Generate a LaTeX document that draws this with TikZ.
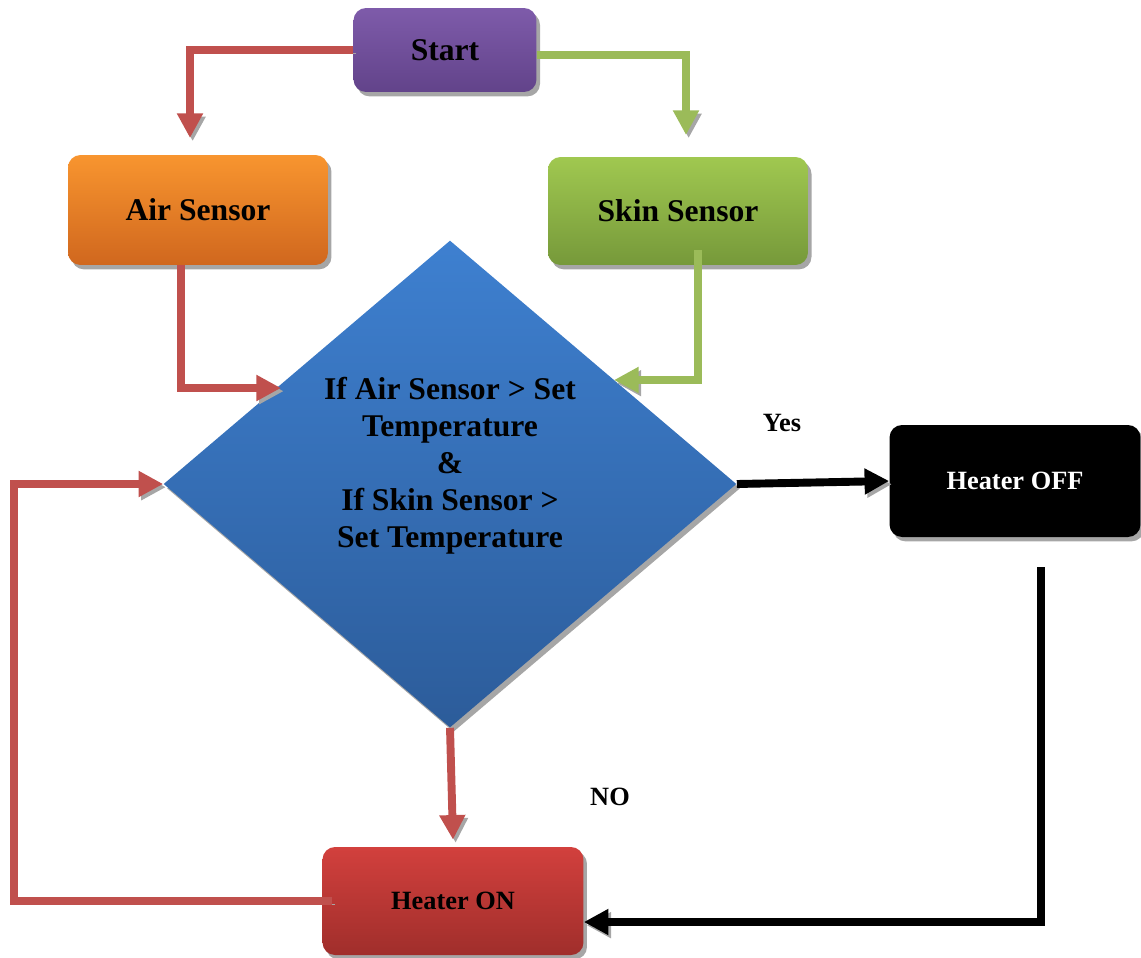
\documentclass[tikz,border=0pt]{standalone}
\usepackage{fontspec}
\setmainfont{Liberation Serif}
\usetikzlibrary{shapes.geometric,arrows.meta,shadows}
\definecolor{purpleA}{HTML}{7E5BAA}
\definecolor{purpleB}{HTML}{62438A}
\definecolor{orangeA}{HTML}{F8952F}
\definecolor{orangeB}{HTML}{D0671E}
\definecolor{greenA}{HTML}{A0C850}
\definecolor{greenB}{HTML}{76993A}
\definecolor{blueA}{HTML}{3E80D0}
\definecolor{blueB}{HTML}{2C5C9A}
\definecolor{redA}{HTML}{D2403D}
\definecolor{redB}{HTML}{A02E2B}
\definecolor{redline}{HTML}{C0504D}
\definecolor{greenline}{HTML}{9BBB59}
\begin{document}
\begin{tikzpicture}[x=0.02cm,y=-0.02cm,
  shade/.style={drop shadow={shadow xshift=2pt,shadow yshift=-2.5pt,fill=black!35,opacity=1}},
  box/.style={rectangle,rounded corners=0.25cm,minimum width=5.2cm,minimum height=2.2cm,
    font=\fontsize{18}{21}\selectfont\bfseries,shade},
  flow/.style={line width=4.5pt,-{Triangle[length=14pt,width=14pt]},
    preaction={draw=black!35,transform canvas={xshift=1.5pt,yshift=-1.8pt}}},
  redflow/.style={flow,draw=redline},
  greenflow/.style={flow,draw=greenline},
  blackflow/.style={flow,draw=black},
  tag/.style={font=\fontsize{15}{18}\selectfont\bfseries}]
\useasboundingbox (0,0) rectangle (1141,957);
\node[box,top color=purpleA,bottom color=purpleB,minimum width=3.66cm,minimum height=1.68cm] (start) at (445,50) {Start};
\node[box,top color=orangeA,bottom color=orangeB] (air) at (198,210) {Air Sensor};
\node[box,top color=greenA,bottom color=greenB,minimum height=2.16cm] (skin) at (678,211) {Skin Sensor};
\node[diamond,top color=blueA,bottom color=blueB,minimum width=11.46cm,minimum height=9.74cm,
  inner sep=0pt,shade] (check) at (450,484) {};
\node[align=center,font=\fontsize{18}{21}\selectfont\bfseries] (checktext) at (450,466)
  {If Air Sensor > Set\\Temperature\\\&\\If Skin Sensor >\\Set Temperature};
\node[box,fill=black,text=white,minimum width=5.02cm,minimum height=2.24cm,
  font=\fontsize{15}{18}\selectfont\bfseries] (off) at (1015,481) {Heater OFF};
\node[box,top color=redA,bottom color=redB,minimum width=5.22cm,minimum height=2.16cm,
  font=\fontsize{15}{18}\selectfont\bfseries] (on) at (453,901) {Heater ON};
\node[tag] (yes) at (782,423) {Yes};
\node[tag] (no) at (610,797) {NO};
\coordinate (airin) at (190,138);
\coordinate (skinin) at (686,135);
\coordinate (chkl) at (281,388);
\coordinate (chkr) at (614,380);
\coordinate (offout) at (1041,567);
\coordinate (loopx) at (14,700);
\draw[redflow] (start.west) -| (airin);
\draw[greenflow] ([yshift=-0.1cm]start.east) -| (skinin);
\draw[redflow] ([xshift=-0.34cm]air.south) |- (chkl);
\draw[greenflow] ([xshift=0.4cm,yshift=0.3cm]skin.south) |- (chkr);
\draw[blackflow] (check.east) -- (off.west);
\draw[blackflow] (offout) |- ([yshift=-0.42cm]on.east);
\draw[redflow] (check.south) -- ([yshift=0.14cm]on.north);
\draw[redflow] ([xshift=0.2cm]on.west) -| (loopx) |- (check.west);
\end{tikzpicture}
\end{document}
